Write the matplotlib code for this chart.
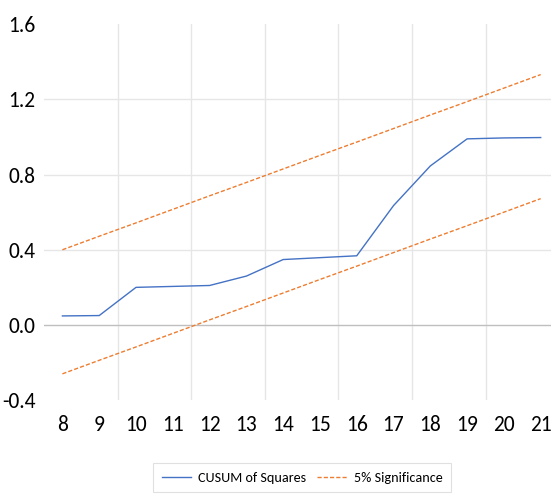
import matplotlib
matplotlib.use("Agg")
import matplotlib.pyplot as plt
from matplotlib import font_manager

# dados
periodos = [8, 9, 10, 11, 12, 13, 14, 15, 16, 17, 18, 19, 20, 21]
cusum_sq = [0.048, 0.05, 0.20, 0.205, 0.21, 0.26, 0.348, 0.358, 0.368, 0.635, 0.846, 0.99, 0.995, 0.997]
sig_sup = [0.40, 0.472, 0.543, 0.615, 0.687, 0.758, 0.83, 0.902, 0.973, 1.045, 1.117, 1.188, 1.26, 1.332]
sig_inf = [-0.26, -0.188, -0.117, -0.045, 0.027, 0.098, 0.17, 0.242, 0.313, 0.385, 0.457, 0.528, 0.60, 0.672]
y_ticks = [-0.4, 0.0, 0.4, 0.8, 1.2, 1.6]

# escolhe uma fonte parecida com calibri
nomes = {f.name for f in font_manager.fontManager.ttflist}
fam = "DejaVu Sans"
for cand in ["Carlito", "Archivo Narrow"]:
    if cand in nomes:
        fam = cand
        break
plt.rcParams["font.family"] = [fam, "DejaVu Sans"]

fig = plt.figure(figsize=(5.51, 4.94), dpi=100)
ax = fig.add_axes([0.0799, 0.19, 0.9201, 0.761])

ax.plot(periodos, cusum_sq, color="#4472C4", lw=1.0, label="CUSUM of Squares")
ax.plot(periodos, sig_sup, color="#ED7D31", lw=1.0, ls=(0, (3, 1.5)), label="5% Significance")
ax.plot(periodos, sig_inf, color="#ED7D31", lw=1.0, ls=(0, (3, 1.5)))

ax.set_xlim(7.5, 21.28)
ax.set_ylim(-0.4, 1.6)
ax.set_xticks(periodos)
ax.set_xticklabels([str(p) for p in periodos])
ax.set_yticks(y_ticks)
ax.set_yticklabels([f"{v:.1f}" for v in y_ticks])
ax.tick_params(length=0, labelsize=15.5, colors="#000000")
ax.tick_params(axis="x", pad=11)
ax.tick_params(axis="y", pad=6)

# grade estilo excel
for v in [0.4, 0.8, 1.2]:
    ax.axhline(v, color="#E6E6E6", lw=1.0, zorder=0)
for v in [9.5, 11.5, 13.5, 15.5, 17.5, 19.5]:
    ax.axvline(v, color="#E6E6E6", lw=1.0, zorder=0)
ax.axhline(0.0, color="#BFBFBF", lw=1.0, zorder=1)
for s in ax.spines.values():
    s.set_visible(False)

leg = ax.legend(loc="upper left", bbox_to_anchor=(153 / 551, 31 / 494), bbox_transform=fig.transFigure,
                ncol=2, fontsize=10.2, frameon=True, fancybox=False, edgecolor="#D9D9D9",
                handlelength=2.1, columnspacing=0.75, handletextpad=0.5, borderpad=0.6,
                borderaxespad=0)
leg.get_frame().set_linewidth(0.8)

fig.savefig("out.png", dpi=100)
